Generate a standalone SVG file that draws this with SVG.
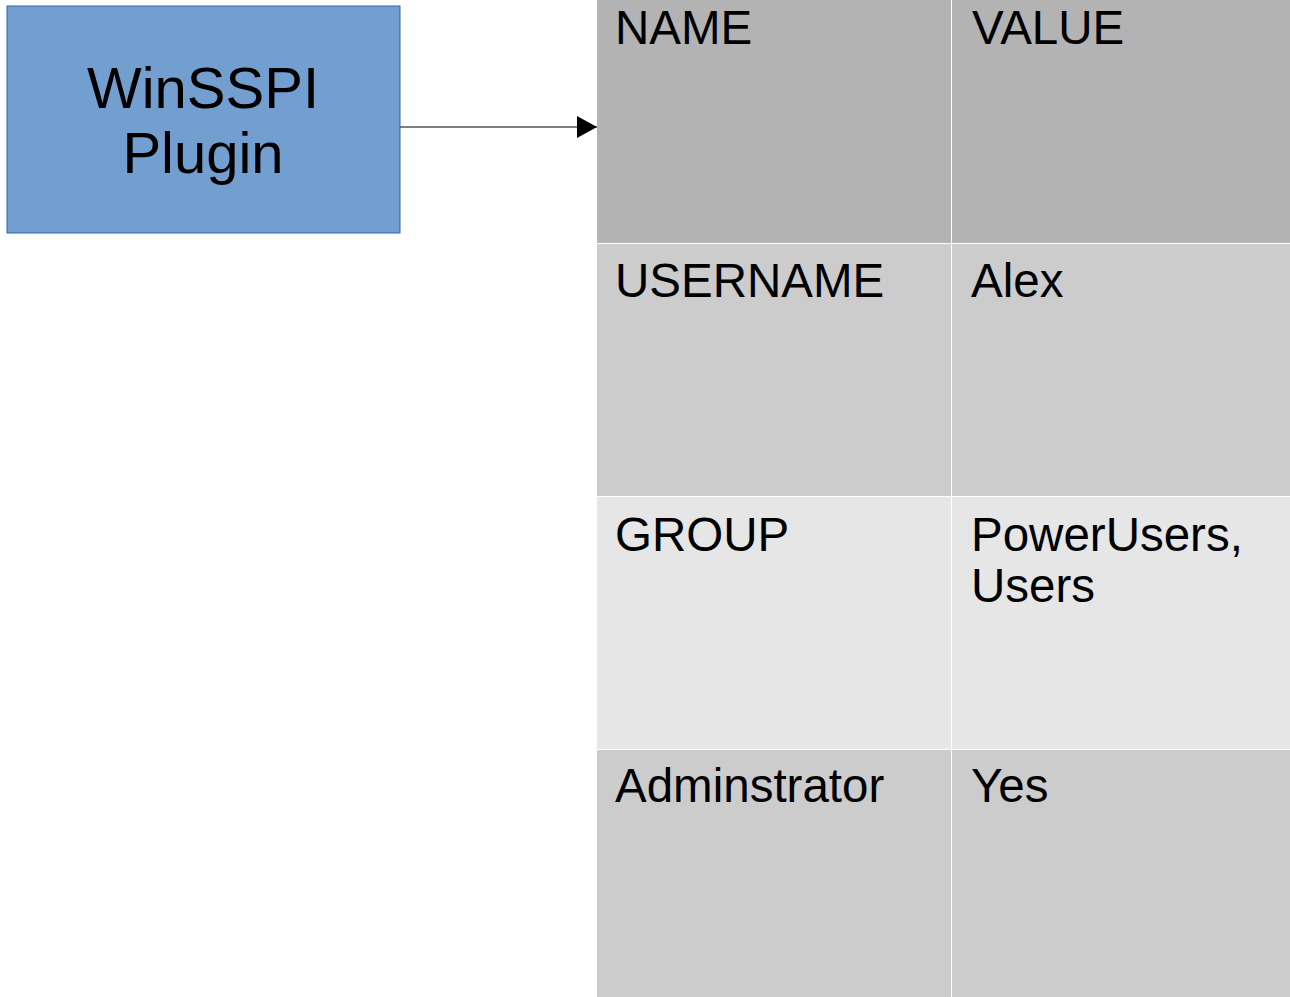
<svg xmlns="http://www.w3.org/2000/svg" width="1290" height="997" viewBox="0 0 1290 997">
  <style>
    .lbl { font-family: "Liberation Sans", Arial, sans-serif; fill: #000000; }
    .plugin { font-size: 58px; text-anchor: middle; }
    .cell-text { font-size: 47.5px; }
    .hdr { fill: #b3b3b3; }
    .row { fill: #cccccc; }
    .row-lt { fill: #e6e6e6; }
    .conn { stroke: #555555; stroke-width: 1.5; fill: none; }
  </style>
  <defs>
    <marker id="arrowhead" markerUnits="userSpaceOnUse" markerWidth="20" markerHeight="22" refX="20" refY="11" orient="auto">
      <polygon points="0,0 20,11 0,22" fill="#000000"/>
    </marker>
  </defs>

  <rect width="1290" height="997" fill="#ffffff"/>

  <!-- plugin box -->
  <g id="winsspi-plugin">
    <rect x="7" y="6" width="393" height="227" fill="#729fcf" stroke="#3465a4" stroke-width="1"/>
    <text class="lbl plugin" x="203" y="108">WinSSPI</text>
    <text class="lbl plugin" x="203" y="173">Plugin</text>
  </g>

  <!-- attribute table -->
  <g id="attribute-table">
    <g id="row-header">
      <rect class="hdr" x="597" y="0" width="354" height="243"/>
      <rect class="hdr" x="952" y="0" width="338" height="243"/>
      <text class="lbl cell-text" x="615" y="44">NAME</text>
      <text class="lbl cell-text" x="972" y="44">VALUE</text>
    </g>
    <g id="row-username">
      <rect class="row" x="597" y="244" width="354" height="252"/>
      <rect class="row" x="952" y="244" width="338" height="252"/>
      <text class="lbl cell-text" x="615" y="297">USERNAME</text>
      <text class="lbl cell-text" x="971" y="297">Alex</text>
    </g>
    <g id="row-group">
      <rect class="row-lt" x="597" y="497" width="354" height="252"/>
      <rect class="row-lt" x="952" y="497" width="338" height="252"/>
      <text class="lbl cell-text" x="615" y="551">GROUP</text>
      <text class="lbl cell-text" x="971" y="551">PowerUsers,</text>
      <text class="lbl cell-text" x="971" y="602">Users</text>
    </g>
    <g id="row-admin">
      <rect class="row" x="597" y="750" width="354" height="247"/>
      <rect class="row" x="952" y="750" width="338" height="247"/>
      <text class="lbl cell-text" x="615" y="802">Adminstrator</text>
      <text class="lbl cell-text" x="971" y="802">Yes</text>
    </g>
  </g>

  <!-- connectors -->
  <g id="connectors">
    <line class="conn" x1="400" y1="127" x2="597" y2="127" marker-end="url(#arrowhead)"/>
  </g>
</svg>
